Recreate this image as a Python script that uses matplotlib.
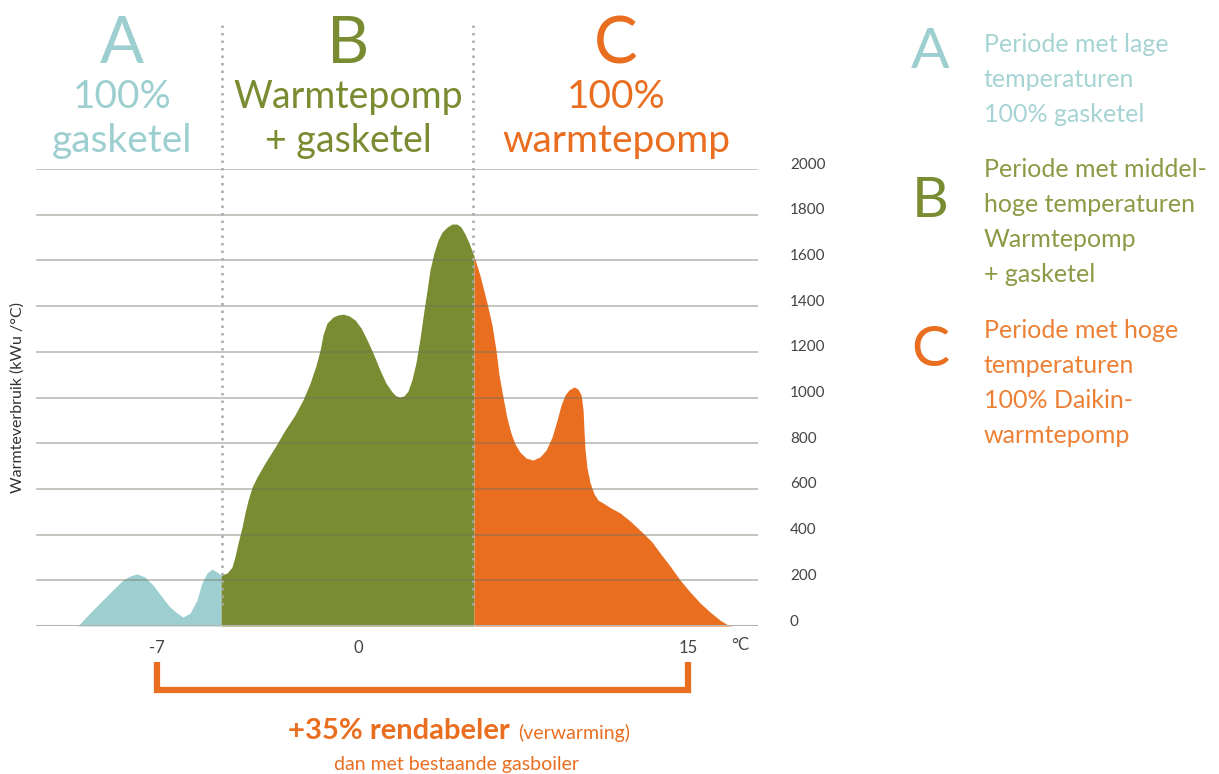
import numpy as np
import matplotlib
matplotlib.use('Agg')
import matplotlib.pyplot as plt
from matplotlib.transforms import ScaledTranslation

plt.rcParams['font.family'] = ['Lato', 'DejaVu Sans']

# temperature (°C) and heat demand (kWu/°C) per period
temp_a = [-9.76, -9.34, -8.89, -8.54, -8.19, -7.94, -7.70, -7.42, -7.14, -6.83, -6.55, -6.31, -6.10,
          -5.85, -5.61, -5.44, -5.26, -5.09, -4.91, -4.77]
val_a = [0, 57, 114, 158, 201, 219, 228, 214, 179, 127, 83, 57, 39,
         57, 114, 188, 232, 249, 236, 223]

temp_b = [-4.77, -4.56, -4.39, -4.29, -4.18, -4.04, -3.94, -3.83, -3.69, -3.52, -3.24, -2.89, -2.54,
          -2.20, -1.92, -1.67, -1.46, -1.32, -1.22, -1.08, -0.87, -0.70, -0.52, -0.31, -0.10, 0.14,
          0.41, 0.68, 1.00, 1.27, 1.55, 1.73, 1.91, 2.09, 2.27, 2.45, 2.64, 2.82, 3.00, 3.14, 3.27,
          3.45, 3.64, 3.82, 4.05, 4.27, 4.50, 4.68, 4.86, 5.05, 5.27]
val_b = [223, 232, 258, 302, 363, 433, 495, 551, 608, 652, 713, 783, 858,
         923, 989, 1063, 1142, 1208, 1274, 1326, 1352, 1361, 1365, 1357, 1339, 1304,
         1252, 1195, 1120, 1063, 1024, 1007, 1002, 1007, 1028, 1077, 1155, 1260, 1383, 1470, 1558,
         1632, 1689, 1724, 1746, 1759, 1759, 1746, 1716, 1676, 1619]

temp_c = [5.27, 5.55, 5.86, 6.09, 6.27, 6.41, 6.59, 6.77, 6.95, 7.14, 7.36, 7.64, 7.95, 8.27, 8.55,
          8.82, 9.05, 9.23, 9.41, 9.59, 9.82, 10.00, 10.14, 10.23, 10.27, 10.32, 10.41, 10.55, 10.73,
          10.91, 11.14, 11.50, 11.91, 12.36, 12.95, 13.36, 13.73, 14.18, 14.64, 15.09, 15.55, 16.00,
          16.45, 16.82, 17.00]
val_c = [1619, 1532, 1414, 1317, 1208, 1098, 1002, 910, 845, 796, 761, 735, 726, 740, 770,
         827, 902, 967, 1011, 1033, 1046, 1037, 1011, 945, 858, 770, 691, 626, 578,
         551, 538, 516, 495, 460, 407, 368, 319, 263, 201, 149, 101, 61,
         26, 4, 0]

x_ticks = [-7, 0, 15]
y_ticks = list(range(0, 2001, 200))
borders = [-4.74, 5.23]

teal = '#9dcfd0'
green = '#7a8c32'
orange = '#e96e20'

W, H = 1219, 774
fig = plt.figure(figsize=(W / 100, H / 100), dpi=100)
ax = fig.add_axes([36 / W, 148 / H, 722 / W, 457 / H])


def fwd(t):
    t = np.asarray(t, dtype=float)
    return np.where(t < 0, t * 28.7, t * 22.0)


def inv(p):
    p = np.asarray(p, dtype=float)
    return np.where(p < 0, p / 28.7, p / 22.0)


# the printed axis is stretched more below 0 °C than above it
ax.set_xscale('function', functions=(fwd, inv))
ax.set_xlim(-11.22, 18.18)
ax.set_ylim(0, 2000)

ax.fill_between(temp_a, val_a, color=teal, lw=0)
ax.fill_between(temp_b, val_b, color=green, lw=0)
ax.fill_between(temp_c, val_c, color=orange, lw=0)

ax.set_yticks(y_ticks)
ax.grid(axis='y', color='#6e6e60', alpha=0.4, lw=1.4)
ax.set_axisbelow(False)
ax.axhline(0, color='#b5b5ad', lw=2.2, zorder=5)
for s in ax.spines.values():
    s.set_visible(False)

ax.yaxis.tick_right()
ax.tick_params(axis='y', length=0, pad=23, labelsize=11, labelcolor='#444444')
for lab in ax.get_yticklabels():
    lab.set_horizontalalignment('left')
    lab.set_transform(lab.get_transform() + ScaledTranslation(0, 6 / 100, fig.dpi_scale_trans))

ax.set_xticks(x_ticks)
ax.set_xticklabels([str(t) for t in x_ticks])
ax.xaxis.set_minor_locator(matplotlib.ticker.NullLocator())
ax.tick_params(axis='x', length=0, pad=10, labelsize=12, labelcolor='#444444')
ax.annotate('°C', xy=(17.36, 0), xycoords=('data', 'axes fraction'), xytext=(0, -19),
            textcoords='offset pixels', ha='center', va='center', fontsize=12, color='#444444')

ax.set_ylabel('Warmteverbruik (kWu /°C)', fontsize=11.5, color='#333333')
ax.yaxis.set_label_coords(-11 / 722, 0.5)

# dotted period borders
ax.vlines(borders, 92, 2643, colors='#aaaaaa', linestyles=(0, (1, 2)), lw=1.8, clip_on=False, zorder=6)

# bracket below the axis
ax.plot([-7, -7, 15, 15], [-158, -280, -280, -158], color=orange, lw=4.5, clip_on=False,
        solid_joinstyle='miter', solid_capstyle='butt')


def px(x, y):
    return x / W, 1 - y / H


# header texts above the chart
heads = [(122, 'A', ['100%', 'gasketel'], teal, 28),
         (348, 'B', ['Warmtepomp', '+ gasketel'], green, 27),
         (616, 'C', ['100%', 'warmtepomp'], orange, 28)]
for x, letter, lines, col, fs in heads:
    fig.text(*px(x, 63), letter, ha='center', va='baseline', fontsize=47, color=col)
    for i, line in enumerate(lines):
        fig.text(*px(x, 108 + 44 * i), line, ha='center', va='baseline', fontsize=fs, color=col)

# legend on the right
legend = [('A', 68, ['Periode met lage', 'temperaturen', '100% gasketel'], 52, '#a6d3d4', teal),
          ('B', 217, ['Periode met middel-', 'hoge temperaturen', 'Warmtepomp', '+ gasketel'], 177, '#8a9a45', green),
          ('C', 366, ['Periode met hoge', 'temperaturen', '100% Daikin-', 'warmtepomp'], 338, '#ec8035', orange)]
for letter, ly, lines, ty, tcol, lcol in legend:
    fig.text(*px(930, ly), letter, ha='center', va='baseline', fontsize=41, color=lcol)
    for i, line in enumerate(lines):
        fig.text(*px(984, ty + 35 * i), line, ha='left', va='baseline', fontsize=18, color=tcol)

fig.text(*px(510, 739), '+35% rendabeler', ha='right', va='baseline', fontsize=21, fontweight='bold', color=orange)
fig.text(*px(518, 739), '(verwarming)', ha='left', va='baseline', fontsize=14, color=orange)
fig.text(*px(456, 770), 'dan met bestaande gasboiler', ha='center', va='baseline', fontsize=14, color=orange)

fig.savefig('out.png', dpi=100)
